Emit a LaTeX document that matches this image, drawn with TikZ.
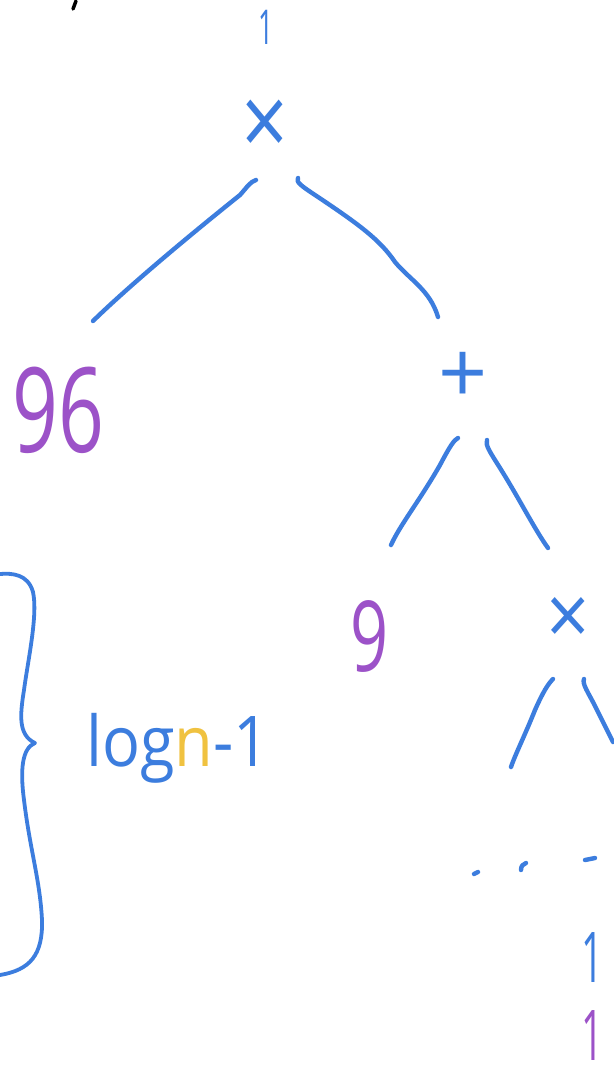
\documentclass[tikz,border=0pt]{standalone}
\usepackage{fontspec}
\setmainfont{Open Sans}
\definecolor{hblue}{HTML}{3C7DDE}
\definecolor{hpurple}{HTML}{9C52C8}
\definecolor{hyellow}{HTML}{F0C240}
\tikzset{
  pen/.style={line width=4.4pt, line cap=round, line join=round, hblue},
  lbl/.style={inner sep=0pt, anchor=center},
  bluetxt/.style={lbl, text=hblue},
  purptxt/.style={lbl, text=hpurple},
}
\newcommand{\fs}[1]{\fontsize{#1}{#1}\selectfont}
\begin{document}
\begin{tikzpicture}[x=1pt,y=-1pt]
\useasboundingbox (0,0) rectangle (613,1078);
\fill[white] (0,0) rectangle (613,1078);
% fragment at top left
\draw[line width=3.5pt, line cap=round, black] (76,1) -- (73,9);
% nodes
\node[bluetxt, font=\fs{48}, xscale=0.55] (top) at (266,27) {1};
\node[bluetxt, font=\fs{82}, yscale=1.2] (t1) at (265,128) {×};
\node[purptxt, font=\fs{118}, xscale=0.68] (n96) at (58,410) {96};
\node[bluetxt, font=\fs{86}] (p1) at (463,378) {+};
\node[purptxt, font=\fs{98}, xscale=0.68] (n9) at (370,636) {9};
\node[bluetxt, font=\fs{76}, yscale=1.1] (t2) at (568,621) {×};
\node[bluetxt, font=\fs{70}, xscale=0.55] (b1) at (592,958) {1};
\node[purptxt, font=\fs{70}, xscale=0.55] (b2) at (592,1036) {1};
\node[lbl, font=\fs{70}, xscale=0.9] (lg) at (178,748) {\textcolor{hblue}{log}\textcolor{hyellow}{n}\textcolor{hblue}{-1}};
% connector ends
\coordinate (a1) at (256,180); \coordinate (a2) at (93,321);
\coordinate (b1s) at (298,178); \coordinate (b2s) at (438,317);
\coordinate (c1) at (458,438); \coordinate (c2) at (391,545);
\coordinate (d1) at (487,440); \coordinate (d2) at (548,548);
\coordinate (e1) at (553,679); \coordinate (e2) at (511,767);
\coordinate (f1) at (584,679); \coordinate (f2) at (613,742);
% connectors
\draw[pen] (a1) .. controls (250,182) and (248,186) .. (240,195) .. controls (190,235) and (130,285) .. (a2);
\draw[pen] (b1s) .. controls (296,182) and (300,185) .. (315,195) .. controls (360,225) and (380,240) .. (395,262) .. controls (410,280) and (430,290) .. (b2s);
\draw[pen] (c1) .. controls (454,440) and (450,446) .. (440,465) .. controls (420,500) and (400,525) .. (c2);
\draw[pen] (d1) .. controls (485,445) and (490,452) .. (500,468) .. controls (520,500) and (535,530) .. (d2);
\draw[pen] (e1) .. controls (548,684) and (543,692) .. (535,710) .. controls (525,735) and (515,755) .. (e2);
\draw[pen] (f1) .. controls (582,684) and (588,692) .. (595,706) .. controls (603,722) and (608,732) .. (f2);
% dots
\draw[pen] (474,874) -- (478,872);
\draw[pen] (521,870) .. controls (521,866) and (523,864) .. (526,863);
\draw[pen] (585,860) -- (595,858);
% brace
\draw[pen, line width=3.8pt] (0,574) .. controls (12,573) and (28,574) .. (33,592)
  .. controls (38,615) and (28,660) .. (24,690)
  .. controls (20,715) and (18,735) .. (35,743)
  .. controls (22,748) and (20,770) .. (24,800)
  .. controls (30,850) and (40,880) .. (42,920)
  .. controls (43,955) and (30,970) .. (0,975);
\end{tikzpicture}
\end{document}
